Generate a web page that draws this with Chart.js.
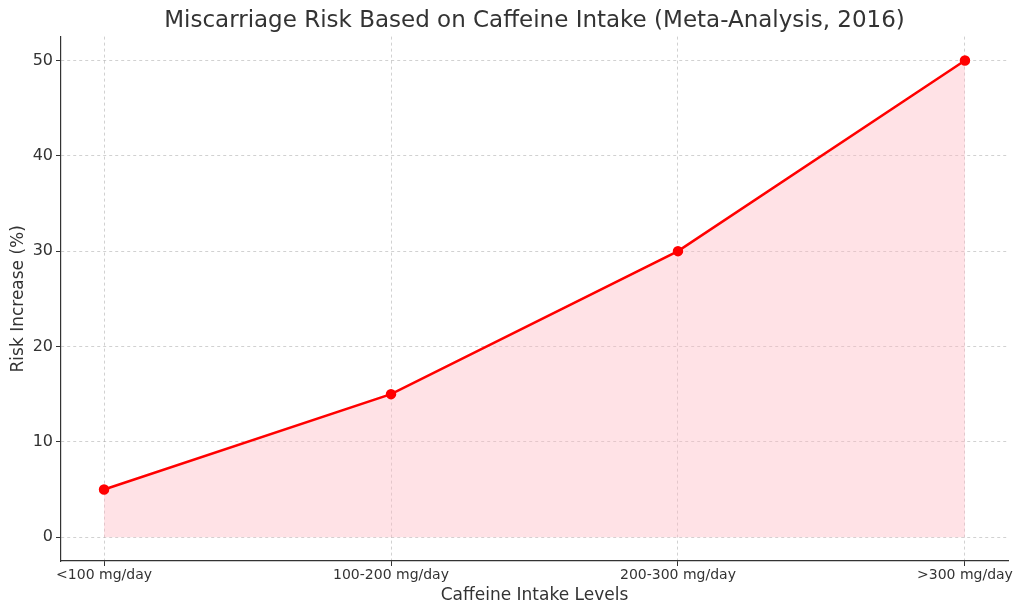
<!DOCTYPE html>
<html>
<head>
<meta charset="utf-8">
<script src="https://cdn.jsdelivr.net/npm/chart.js@4.4.0/dist/chart.umd.min.js"></script>
<style>
  html, body { margin: 0; padding: 0; background: #fff; }
  #wrap { width: 1024px; height: 614px; }
</style>
</head>
<body>
<div id="wrap"><canvas id="chartRisk"></canvas></div>
<script>
const categories = ['<100 mg/day', '100-200 mg/day', '200-300 mg/day', '>300 mg/day'];
const riskValues = [5, 15, 30, 50];
const yTicks = [0, 10, 20, 30, 40, 50];

const points = riskValues.map((v, i) => ({ x: i, y: v }));
const font = 'DejaVu Sans';
const textColor = '#333';
const gridColor = 'rgba(0,0,0,0.18)';

new Chart(document.getElementById('chartRisk'), {
    type: 'line',
    data: {
        datasets: [
            {
                label: 'Risk Increase (%)',
                data: points,
                borderColor: 'rgb(255, 0, 0)',
                backgroundColor: 'rgba(255, 182, 193, 0.4)',
                pointBackgroundColor: 'rgb(255, 0, 0)',
                pointBorderColor: 'rgb(255, 0, 0)',
                pointRadius: 4,
                borderWidth: 2.5,
                tension: 0,
                fill: 'origin',
            },
        ],
    },
    options: {
        responsive: true,
        maintainAspectRatio: false,
        animation: false,
        layout: { padding: { left: 0, right: 16, top: 0, bottom: 0 } },
        plugins: {
            legend: { display: false },
            tooltip: { enabled: false },
            title: {
                display: true,
                fullSize: false,
                text: 'Miscarriage Risk Based on Caffeine Intake (Meta-Analysis, 2016)',
                color: textColor,
                font: { family: font, size: 23, weight: 'normal' },
                padding: { top: 7, bottom: 2 },
            },
        },
        scales: {
            x: {
                type: 'linear',
                min: -0.15,
                max: 3.15,
                afterBuildTicks: (scale) => {
                    scale.ticks = categories.map((c, i) => ({ value: i }));
                },
                afterFit: (scale) => { scale.height = 53; },
                ticks: {
                    color: textColor,
                    font: { family: font, size: 14 },
                    padding: 1,
                    maxRotation: 0,
                    autoSkip: false,
                    callback: (v) => categories[v],
                },
                grid: {
                    color: gridColor,
                    tickBorderDash: [],
                    tickColor: textColor,
                    tickLength: 5,
                },
                border: { color: textColor, width: 1.2, dash: [3, 3] },
                title: {
                    display: true,
                    text: 'Caffeine Intake Levels',
                    color: textColor,
                    font: { family: font, size: 17 },
                    padding: { top: 12, bottom: 8 },
                },
            },
            y: {
                min: -2.5,
                max: 52.5,
                afterBuildTicks: (scale) => {
                    scale.ticks = yTicks.map((v) => ({ value: v }));
                },
                afterFit: (scale) => { scale.width = 61; },
                ticks: {
                    color: textColor,
                    font: { family: font, size: 16 },
                    padding: 3,
                },
                grid: {
                    color: gridColor,
                    tickBorderDash: [],
                    tickColor: textColor,
                    tickLength: 5,
                },
                border: { color: textColor, width: 1.2, dash: [3, 3] },
                title: {
                    display: true,
                    text: 'Risk Increase (%)',
                    color: textColor,
                    font: { family: font, size: 17 },
                    padding: { top: 8, bottom: 8 },
                },
            },
        },
    },
});
</script>
</body>
</html>
